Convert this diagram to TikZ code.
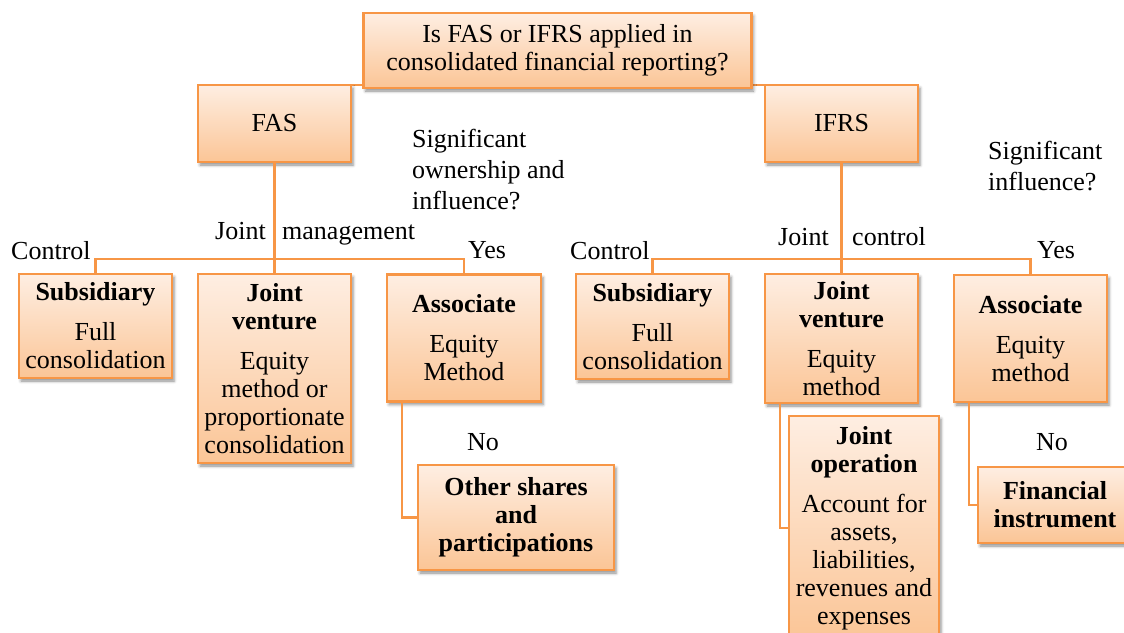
\documentclass[tikz,border=0pt]{standalone}
\usepackage{fontspec}
\setmainfont{Liberation Serif}
\usetikzlibrary{shadows.blur}

\definecolor{boxline}{RGB}{247,150,70}
\definecolor{boxtop}{RGB}{254,238,226}
\definecolor{boxbot}{RGB}{251,197,150}

\tikzset{
  txt/.style={font=\fontsize{26}{28}\selectfont, inner sep=0pt},
  card/.style={txt, draw=boxline, line width=2.4pt, top color=boxtop, bottom color=boxbot,
    align=center, blur shadow={shadow xshift=2pt, shadow yshift=-3pt,
    shadow blur radius=3pt, shadow opacity=45}},
  link/.style={draw=boxline, line width=2.3pt},
  lbl/.style={txt, anchor=base west},
}

\begin{document}
\begin{tikzpicture}[x=1pt, y=-1pt]
\useasboundingbox (0,0) rectangle (1124,632);
\clip (0,0) rectangle (1124,632);

% horizontal rails
\coordinate (rail) at (0,259);

% links from the question to the two standards (drawn first, boxes sit on top)
\coordinate (topc) at (557.5,50.5);
\coordinate (fasn) at (274.5,85);
\coordinate (ifrsn) at (841.5,85);
\draw[link] (topc) |- (fasn);
\draw[link] (topc) |- (ifrsn);

% --- question box and the two standards
\node[card, minimum width=388, minimum height=75] (top) at (557.5,50.5)
  {Is FAS or IFRS applied in\\consolidated financial reporting?};
\node[card, minimum width=153, minimum height=77] (fas) at (274.5,123.5) {FAS};
\node[card, minimum width=153, minimum height=77] (ifrs) at (841.5,123.5) {IFRS};

% --- FAS branch
\node[card, minimum width=153, minimum height=104] (subL) at (95.5,326)
  {\textbf{Subsidiary}\\[12pt]Full\\consolidation};
\node[card, minimum width=153, minimum height=189] (jvL) at (274.5,368.5)
  {\textbf{Joint}\\\textbf{venture}\\[12pt]Equity\\method or\\proportionate\\consolidation};
\node[card, minimum width=154, minimum height=127] (asL) at (464,338)
  {\textbf{Associate}\\[12pt]Equity\\Method};
\node[card, minimum width=196, minimum height=105] (oth) at (516,517.5)
  {\textbf{Other shares}\\\textbf{and}\\\textbf{participations}};

% --- IFRS branch
\node[card, minimum width=153, minimum height=105] (subR) at (652.5,326.5)
  {\textbf{Subsidiary}\\[12pt]Full\\consolidation};
\node[card, minimum width=153, minimum height=129] (jvR) at (841.5,338.5)
  {\textbf{Joint}\\\textbf{venture}\\[12pt]Equity\\method};
\node[card, minimum width=153, minimum height=127] (asR) at (1030.5,338.5)
  {\textbf{Associate}\\[12pt]Equity\\method};
\node[card, minimum width=150, minimum height=224] (jop) at (864,528)
  {\textbf{Joint}\\\textbf{operation}\\[12pt]Account for\\assets,\\liabilities,\\revenues and\\expenses};
\node[card, minimum width=154, minimum height=76] (fin) at (1055,505)
  {\textbf{Financial}\\\textbf{instrument}};

% --- tree connectors
\draw[link] (fas.south) -- (jvL.north);
\draw[link] (subL.north) -- (subL.north |- rail) -- (asL.north |- rail) -- (asL.north);
\draw[link] ([xshift=16pt]asL.south west) |- (oth.west);

\draw[link] (ifrs.south) -- (jvR.north);
\draw[link] (subR.north) -- (subR.north |- rail) -- (asR.north |- rail) -- (asR.north);
\draw[link] ([xshift=16pt]jvR.south west) |- (jop.west);
\draw[link] ([xshift=16pt]asR.south west) |- (fin.west);

% --- branch labels
\node[lbl] (ctlL) at (11,259) {Control};
\node[lbl] (jtL) at (215,239) {Joint};
\node[lbl] (mgL) at (282,239) {management};
\node[lbl] (sq1) at (412,147) {Significant};
\node[lbl] (sq2) at (412,178) {ownership and};
\node[lbl] (sq3) at (412,209) {influence?};
\node[lbl] (yesL) at (468,258) {Yes};
\node[lbl] (noL) at (467,450) {No};

\node[lbl] (ctlR) at (570,259) {Control};
\node[lbl] (jtR) at (778,245) {Joint};
\node[lbl] (coR) at (852,245) {control};
\node[lbl] (si1) at (988,159) {Significant};
\node[lbl] (si2) at (988,190) {influence?};
\node[lbl] (yesR) at (1037,258) {Yes};
\node[lbl] (noR) at (1036,450) {No};
\end{tikzpicture}
\end{document}
